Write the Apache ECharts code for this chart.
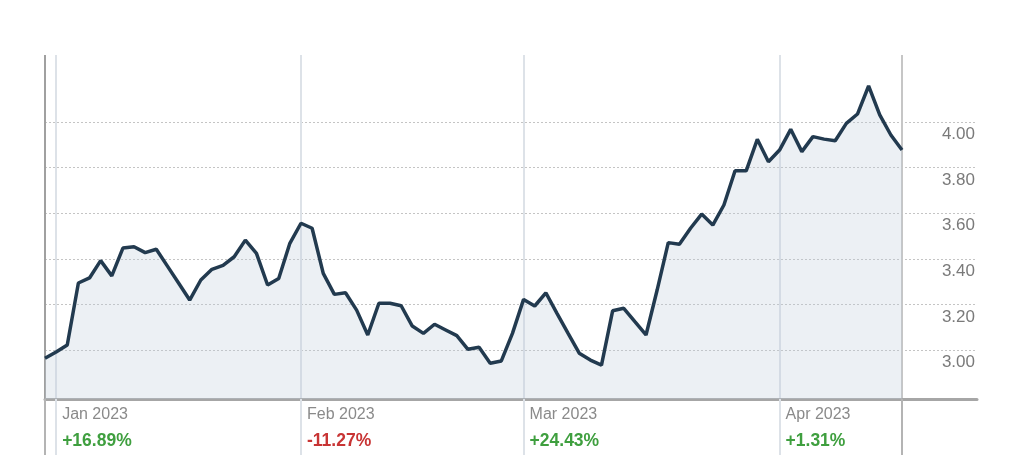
<!DOCTYPE html>
<html><head><meta charset="utf-8">
<script src="https://cdn.jsdelivr.net/npm/echarts@6/dist/echarts.min.js"></script>
<style>html,body{margin:0;padding:0;background:#fff}#chart{width:1024px;height:462px}</style>
</head><body><div id="chart"></div>
<script>
// Price series (one point per sample)
const prices = [
  2.964, 2.991, 3.022, 3.294, 3.316, 3.392, 3.325, 3.447, 3.453, 3.427,
  3.442, 3.368, 3.294, 3.219, 3.307, 3.354, 3.371, 3.409, 3.482, 3.424,
  3.285, 3.314, 3.468, 3.556, 3.534, 3.336, 3.244, 3.251, 3.175, 3.066,
  3.205, 3.205, 3.194, 3.105, 3.073, 3.113, 3.088, 3.063, 3.003, 3.012,
  2.942, 2.952, 3.073, 3.222, 3.193, 3.251, 3.161, 3.073, 2.986, 2.956,
  2.934, 3.172, 3.183, 3.124, 3.066, 3.263, 3.471, 3.464, 3.534, 3.596,
  3.548, 3.636, 3.786, 3.786, 3.924, 3.826, 3.877, 3.968, 3.870, 3.936,
  3.925, 3.918, 3.994, 4.035, 4.158, 4.031, 3.943, 3.877
];
// Sample index where each month begins
const monthStarts = [1, 23, 43, 66];
const monthNames = ['Jan 2023', 'Feb 2023', 'Mar 2023', 'Apr 2023'];
const monthChanges = ['+16.89%', '-11.27%', '+24.43%', '+1.31%'];
// Value axis labels
const yTickMin = 3.0, yTickMax = 4.0, yTickStep = 0.2;
const plotMin = 2.7851, plotMax = 4.2939;

const days = prices.map((p, i) => String(i));
const last = prices.length - 1;
const isMonth = (i) => monthStarts.indexOf(i) >= 0;
const isEdge = (i) => i === 0 || i === last;
const FONT = '"Liberation Sans", Arial, Helvetica, sans-serif';

const chart = echarts.init(document.getElementById('chart'), null, {renderer: 'canvas'});
chart.setOption({
  animation: false,
  backgroundColor: '#fff',
  grid: [
    {left: 45, right: 122, top: 55, bottom: 63},
    {left: 45, right: 47, top: 122, bottom: 112}
  ],
  xAxis: [
    {
      gridIndex: 0, type: 'category', data: days, boundaryGap: false, position: 'bottom',
      axisLine: {show: false},
      axisTick: {show: true, interval: (i) => isMonth(i), length: 56, lineStyle: {color: '#dde2e8', width: 2}},
      axisLabel: {
        show: true, interval: (i) => isMonth(i), align: 'left', margin: 2,
        padding: [0, 0, 0, 6],
        formatter: (v, i) => {
          const k = monthStarts.indexOf(Number(v));
          if (k < 0) return '';
          const ch = monthChanges[k];
          const st = ch.charAt(0) === '-' ? 'dn' : 'up';
          return '{d|' + monthNames[k] + '}\n{' + st + '|' + ch + '}';
        },
        rich: {
          d: {fontFamily: FONT, fontSize: 16, color: '#8a8a8a', lineHeight: 27},
          up: {fontFamily: FONT, fontSize: 17.5, fontWeight: 'bold', color: '#3f9f3f', lineHeight: 27},
          dn: {fontFamily: FONT, fontSize: 17.5, fontWeight: 'bold', color: '#c83434', lineHeight: 27}
        }
      },
      splitLine: {show: true, interval: (i) => isMonth(i), lineStyle: {color: '#dde2e8', width: 2}}
    },
    {
      gridIndex: 0, type: 'category', data: days, boundaryGap: false, position: 'bottom',
      axisLine: {show: false},
      axisTick: {show: true, interval: (i) => isEdge(i), length: 56, lineStyle: {color: '#b4b4b4', width: 2}},
      axisLabel: {show: false},
      splitLine: {show: true, interval: (i) => isEdge(i), lineStyle: {color: ['#a0a0a0', '#c6c6c6'], width: 2}}
    },
    {
      gridIndex: 1, type: 'value', min: 0, max: 1, offset: 49, position: 'bottom',
      axisLine: {show: true, lineStyle: {color: '#a6a6a6', width: 3}},
      axisTick: {show: false}, axisLabel: {show: false}, splitLine: {show: false}
    }
  ],
  yAxis: [
    {gridIndex: 0, type: 'value', min: plotMin, max: plotMax, show: false},
    {
      gridIndex: 1, type: 'value', min: yTickMin, max: yTickMax, interval: yTickStep,
      position: 'right',
      axisLine: {show: false}, axisTick: {show: false},
      axisLabel: {
        inside: true, margin: 2, color: '#7a7a7a', fontSize: 17, fontFamily: FONT,
        verticalAlign: 'top', padding: [4, 0, 0, 0],
        formatter: (v) => Number(v).toFixed(2)
      },
      splitLine: {show: true, lineStyle: {type: [2, 2], color: '#c4c4c4', width: 1}}
    }
  ],
  series: [{
    type: 'line', xAxisIndex: 0, yAxisIndex: 0, data: prices,
    symbol: 'none', smooth: false,
    lineStyle: {color: '#223a4f', width: 3.5},
    areaStyle: {origin: 'start', color: 'rgba(190,203,218,0.42)'},
    z: 3
  }]
});
</script>
</body></html>
